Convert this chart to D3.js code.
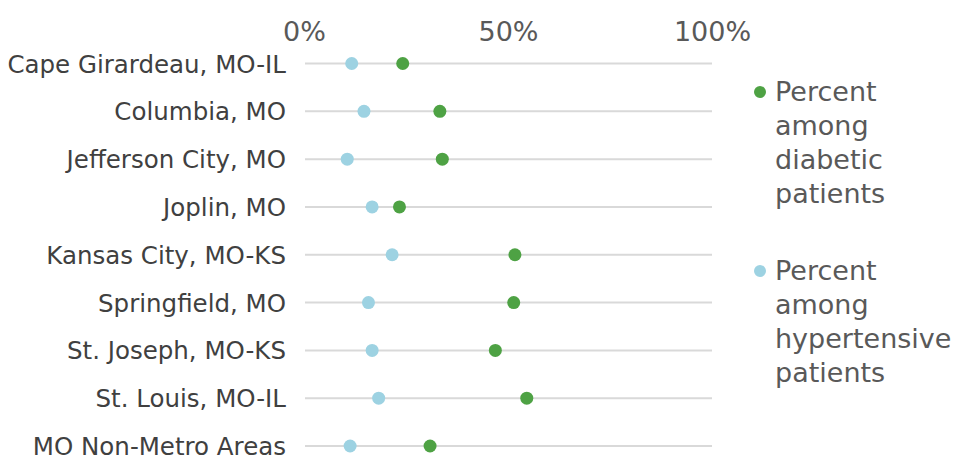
<!DOCTYPE html>
<html><head><meta charset="utf-8">
<script src="https://cdn.jsdelivr.net/npm/d3@7"></script>
<style>body{margin:0;background:#fff}svg{display:block}</style>
</head><body>
<svg id="c" width="956" height="461"></svg>
<script>
const categories = ["Cape Girardeau, MO-IL","Columbia, MO","Jefferson City, MO","Joplin, MO","Kansas City, MO-KS","Springfield, MO","St. Joseph, MO-KS","St. Louis, MO-IL","MO Non-Metro Areas"];
const diabetic = [24.2, 33.3, 33.9, 23.4, 51.7, 51.4, 46.9, 54.6, 30.9];
const hypertensive = [11.7, 14.7, 10.6, 16.7, 21.6, 15.8, 16.7, 18.3, 11.3];
const xTicks = [0, 50, 100];
const seriesNames = [["Percent","among","diabetic","patients"],["Percent","among","hypertensive","patients"]];
const colors = ["#4ea244", "#9dd2e2"];

const svg = d3.select("#c");
const font = "'DejaVu Sans', Verdana, sans-serif";
const x = d3.scaleLinear().domain([0,100]).range([304,712]);
const y = d3.scalePoint().domain(categories).range([63.5,446]);

// gridlines
svg.append("g").selectAll("line").data(categories).join("line")
  .attr("x1", x(0)+1).attr("x2", x(100)).attr("y1", d=>y(d)).attr("y2", d=>y(d))
  .attr("stroke", "#d9d9d9").attr("stroke-width", 2);

// top axis
const ax = svg.append("g").attr("transform","translate(0,28)")
  .call(d3.axisTop(x).tickValues(xTicks).tickFormat(d=>d+"%").tickSize(0).tickPadding(0));
ax.select(".domain").remove();
ax.selectAll("text").attr("font-family", font).attr("font-size", 27).attr("fill","#595959").attr("dy","0.1em");
ax.selectAll("text").attr("transform","translate(0,10)");

// category labels
const ay = svg.append("g").attr("transform","translate(286,0)")
  .call(d3.axisLeft(y).tickSize(0).tickPadding(0));
ay.select(".domain").remove();
ay.selectAll("text").attr("font-family", font).attr("font-size", 24.5).attr("fill","#404040").attr("dy","0.35em");

// dots
const data = [hypertensive, diabetic];
const cols = [colors[1], colors[0]];
data.forEach((vals,i)=>{
  svg.append("g").selectAll("circle").data(vals).join("circle")
    .attr("cx", d=>x(d)).attr("cy", (d,j)=>y(categories[j])).attr("r", 6.5).attr("fill", cols[i]);
});

// legend
const legY = [92, 271];
seriesNames.forEach((lines,i)=>{
  const g = svg.append("g").attr("transform",`translate(760,${legY[i]})`);
  g.append("circle").attr("cx",0).attr("cy",0).attr("r",6).attr("fill",colors[i]);
  lines.forEach((t,k)=>{
    g.append("text").attr("x",15).attr("y",k*34).attr("dy","0.35em")
      .attr("font-family",font).attr("font-size",27).attr("fill","#595959").text(t);
  });
});
</script>
</body></html>
